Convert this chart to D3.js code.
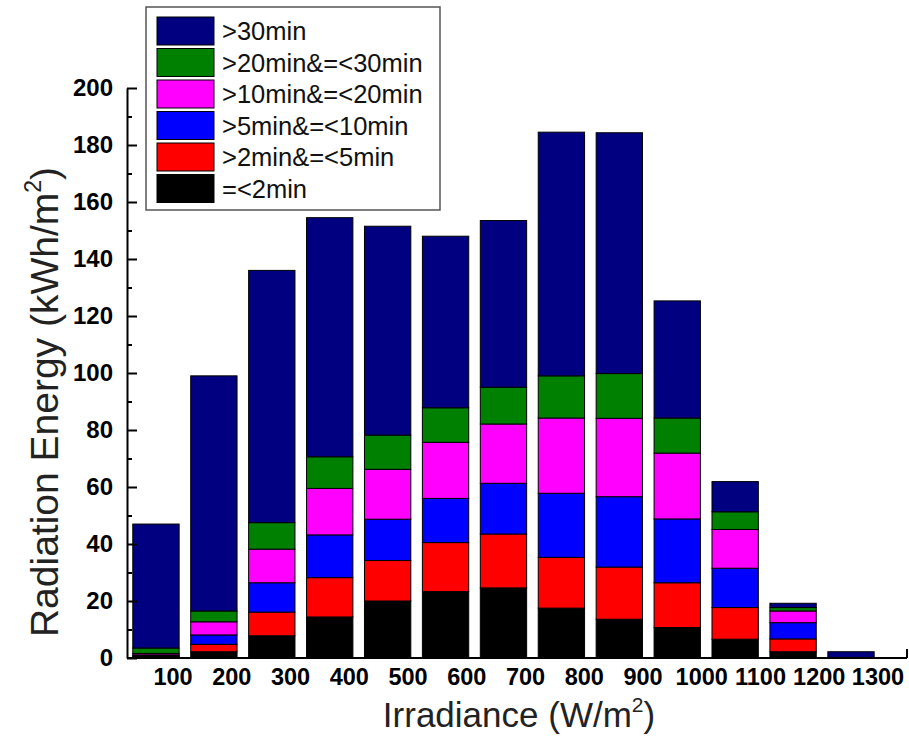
<!DOCTYPE html>
<html>
<head>
<meta charset="utf-8">
<script src="https://cdn.jsdelivr.net/npm/d3@7/dist/d3.min.js"></script>
<style>
  html, body { margin: 0; padding: 0; background: #fff; }
  svg { display: block; }
  text { font-family: "Liberation Sans", Arial, sans-serif; }
</style>
</head>
<body>
<svg id="chart" width="909" height="736"></svg>
<script>
// ---- data ----
const categories = ["100","200","300","400","500","600","700","800","900","1000","1100","1200","1300"];
const seriesNames = ["=<2min", ">2min&=<5min", ">5min&=<10min", ">10min&=<20min", ">20min&=<30min", ">30min"];
const le2min   = [0.5, 2.2, 7.8, 14.4, 20.0, 23.3, 24.6, 17.5, 13.6, 10.7, 6.6, 2.2, 0.2];
const min2to5  = [0.3, 2.6, 8.3, 13.8, 14.2, 17.2, 18.9, 17.8, 18.3, 15.7, 11.1, 4.5, 0.0];
const min5to10 = [0.3, 3.3, 10.3, 15.0, 14.5, 15.5, 17.8, 22.5, 24.7, 22.4, 13.8, 5.7, 0.0];
const min10to20= [0.5, 4.6, 11.8, 16.3, 17.5, 19.7, 20.8, 26.4, 27.5, 23.1, 13.6, 4.1, 0.0];
const min20to30= [1.9, 3.8, 9.3, 11.1, 12.0, 12.1, 12.9, 14.8, 15.7, 12.3, 6.2, 1.2, 0.0];
const gt30min  = [43.5, 82.5, 88.5, 83.9, 73.3, 60.2, 58.5, 85.5, 84.5, 41.1, 10.6, 1.5, 2.0];
const seriesValues = [le2min, min2to5, min5to10, min10to20, min20to30, gt30min];
const seriesColors = ["#000000", "#ff0000", "#0000ff", "#ff00ff", "#008000", "#000080"];
const yTicks = [0, 20, 40, 60, 80, 100, 120, 140, 160, 180, 200];
const yMinorTicks = [10, 30, 50, 70, 90, 110, 130, 150, 170, 190];

// ---- table for d3.stack ----
const table = categories.map((c, i) => {
  const row = { cat: c };
  seriesNames.forEach((s, j) => { row[s] = seriesValues[j][i]; });
  return row;
});
const stacked = d3.stack().keys(seriesNames)(table);

const svg = d3.select("#chart");
const x0 = 127, yBase = 658, yTop = 88;

const x = d3.scaleBand().domain(categories)
  .range([x0, x0 + 13 * 57.92]).paddingInner(0.2).paddingOuter(0.1);
const xLabel = d3.scalePoint().domain(categories).range([173, 878]);
const y = d3.scaleLinear().domain([0, 200]).range([yBase, yTop]);

// bars
const layers = svg.append("g").selectAll("g").data(stacked).join("g")
  .attr("fill", (d, i) => seriesColors[i]);
layers.selectAll("rect").data(d => d.filter(p => p[1] - p[0] > 0)).join("rect")
  .attr("x", d => x(d.data.cat))
  .attr("width", x.bandwidth())
  .attr("y", d => y(d[1]))
  .attr("height", d => y(d[0]) - y(d[1]))
  .attr("stroke", "#000")
  .attr("stroke-width", 1);

// y axis (ticks inward)
const yAxis = svg.append("g").attr("transform", `translate(${x0},0)`)
  .call(d3.axisLeft(y).tickValues(yTicks).tickSize(-10).tickSizeOuter(0).tickPadding(14));
yAxis.selectAll("text").attr("font-size", 24).attr("font-weight", "bold")
  .attr("fill", "#000").attr("font-family", "'Liberation Sans', Arial, sans-serif");
yAxis.selectAll("line").attr("stroke", "#000").attr("stroke-width", 2);
yAxis.select(".domain").attr("stroke", "#000").attr("stroke-width", 2);
const yMinor = svg.append("g").attr("transform", `translate(${x0},0)`)
  .call(d3.axisLeft(y).tickValues(yMinorTicks).tickSize(-5).tickFormat(""));
yMinor.select(".domain").remove();
yMinor.selectAll("line").attr("stroke", "#000").attr("stroke-width", 2);

// x axis baseline
svg.append("line").attr("x1", x0).attr("x2", 907).attr("y1", yBase).attr("y2", yBase)
  .attr("stroke", "#000").attr("stroke-width", 2);
svg.append("line").attr("x1", 907).attr("x2", 907).attr("y1", yBase).attr("y2", yBase - 9)
  .attr("stroke", "#000").attr("stroke-width", 2);

// x tick labels
svg.append("g").selectAll("text").data(categories).join("text")
  .attr("x", d => xLabel(d)).attr("y", 685)
  .attr("text-anchor", "middle").attr("font-size", 23.5).attr("font-weight", "bold")
  .text(d => d);

// axis titles
const xt = svg.append("text").attr("x", 519).attr("y", 727).attr("text-anchor", "middle")
  .attr("font-size", 35).attr("fill", "#222");
xt.append("tspan").text("Irradiance (W/m");
xt.append("tspan").attr("font-size", 21).attr("dy", -15).text("2");
xt.append("tspan").attr("dy", 15).text(")");

const yt = svg.append("text").attr("transform", "translate(58,402) rotate(-90)")
  .attr("text-anchor", "middle").attr("font-size", 39).attr("fill", "#222");
yt.append("tspan").text("Radiation Energy (kWh/m");
yt.append("tspan").attr("font-size", 23).attr("dy", -17).text("2");
yt.append("tspan").attr("dy", 17).text(")");

// legend
const lg = svg.append("g");
lg.append("rect").attr("x", 146).attr("y", 7).attr("width", 294).attr("height", 203)
  .attr("fill", "#fff").attr("stroke", "#555").attr("stroke-width", 1.5);
const legendOrder = seriesNames.map((s, i) => i).reverse();
legendOrder.forEach((si, k) => {
  const yy = 17 + k * 31.5;
  lg.append("rect").attr("x", 157).attr("y", yy).attr("width", 57).attr("height", 28)
    .attr("fill", seriesColors[si]).attr("stroke", "#000").attr("stroke-width", 1);
  lg.append("text").attr("x", 222).attr("y", yy + 14).attr("dy", "0.36em")
    .attr("font-size", 25.5).attr("fill", "#111").text(seriesNames[si]);
});
</script>
</body>
</html>
